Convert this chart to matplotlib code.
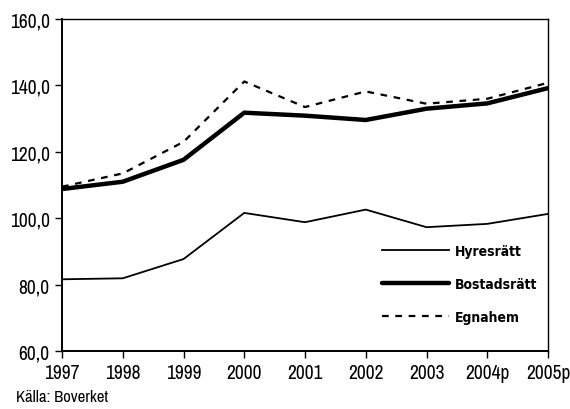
import matplotlib
matplotlib.use('Agg')
import matplotlib.pyplot as plt
import matplotlib.ticker as ticker
from matplotlib import font_manager

# Data
years = ['1997', '1998', '1999', '2000', '2001', '2002', '2003', '2004p', '2005p']
hyresratt = [81.6, 81.9, 87.7, 101.6, 98.8, 102.6, 97.3, 98.3, 101.3]
bostadsratt = [108.8, 111.0, 117.6, 131.8, 130.9, 129.6, 133.0, 134.6, 139.2]
egnahem = [109.5, 113.5, 123.0, 141.2, 133.5, 138.2, 134.5, 136.0, 140.8]


def wnum(w):
    return w if isinstance(w, int) else font_manager.weight_dict.get(w, 400)


def rank(f):
    if 'Narrow' in f.name:
        return 0
    if 'Condensed' in f.name:
        return 1
    return 2


# look for narrow fonts among the installed ones
narrow = [f for f in font_manager.fontManager.ttflist
          if ('Narrow' in f.name or 'Condensed' in f.name or 'condensed' in str(f.stretch))
          and f.style == 'normal']
narrow.sort(key=lambda f: (rank(f), f.name))
regular = [f for f in narrow if wnum(f.weight) == 400 and 'Bold' not in f.name]
reg_font = regular[0] if regular else None

# condensed bold for the legend: DejaVu Sans Condensed Bold if there, else any narrow bold
dv_bold = [f for f in narrow if f.name == 'DejaVu Sans' and wnum(f.weight) == 700]
other_bold = [f for f in narrow if wnum(f.weight) >= 700 or 'Bold' in f.name]
bold_font = (dv_bold or other_bold or [None])[0]

if reg_font is not None:
    tick_prop = font_manager.FontProperties(fname=reg_font.fname, size=14)
    src_prop = font_manager.FontProperties(fname=reg_font.fname, size=12)
else:
    tick_prop = font_manager.FontProperties(size=11)
    src_prop = font_manager.FontProperties(size=9.5)

if dv_bold:
    leg_size = 10
    leg_prop = font_manager.FontProperties(fname=bold_font.fname, size=leg_size)
elif bold_font is not None:
    leg_size = 12.5
    leg_prop = font_manager.FontProperties(fname=bold_font.fname, size=leg_size)
else:
    leg_size = 9
    leg_prop = font_manager.FontProperties(weight='bold', size=leg_size)

fig = plt.figure(figsize=(5.7, 4.1), dpi=100)
ax = fig.add_axes([0.1088, 0.1415, 0.8526, 0.8095])

x = range(len(years))
ax.plot(x, hyresratt, color='black', linewidth=1.3, label='Hyresrätt')
ax.plot(x, bostadsratt, color='black', linewidth=3.2, label='Bostadsrätt', solid_capstyle='round')
ax.plot(x, egnahem, color='black', linewidth=1.6, linestyle=(0, (3, 3)), label='Egnahem')

ax.set_xlim(0, len(years) - 1)
ax.set_ylim(60, 160)
ax.set_xticks(list(x))
ax.set_xticklabels(years)
ax.set_yticks([60, 80, 100, 120, 140, 160])
ax.yaxis.set_major_formatter(ticker.FuncFormatter(lambda v, pos: f'{v:.1f}'.replace('.', ',')))

ax.tick_params(axis='both', direction='out', length=5, width=1, pad=4)
for lbl in ax.get_xticklabels() + ax.get_yticklabels():
    lbl.set_fontproperties(tick_prop)
for s in ax.spines.values():
    s.set_linewidth(1)
ax.spines['left'].set_linewidth(1.4)
ax.spines['bottom'].set_linewidth(1.4)

leg = ax.legend(loc='upper left', bbox_to_anchor=(0.632, 0.36), frameon=False,
                handlelength=67 / (leg_size * 100 / 72), handletextpad=0.45,
                labelspacing=13.5 / leg_size, prop=leg_prop)

fig.text(0.028, 0.012, 'Källa: Boverket', fontproperties=src_prop, ha='left', va='bottom')

plt.savefig('out.png', dpi=100)
